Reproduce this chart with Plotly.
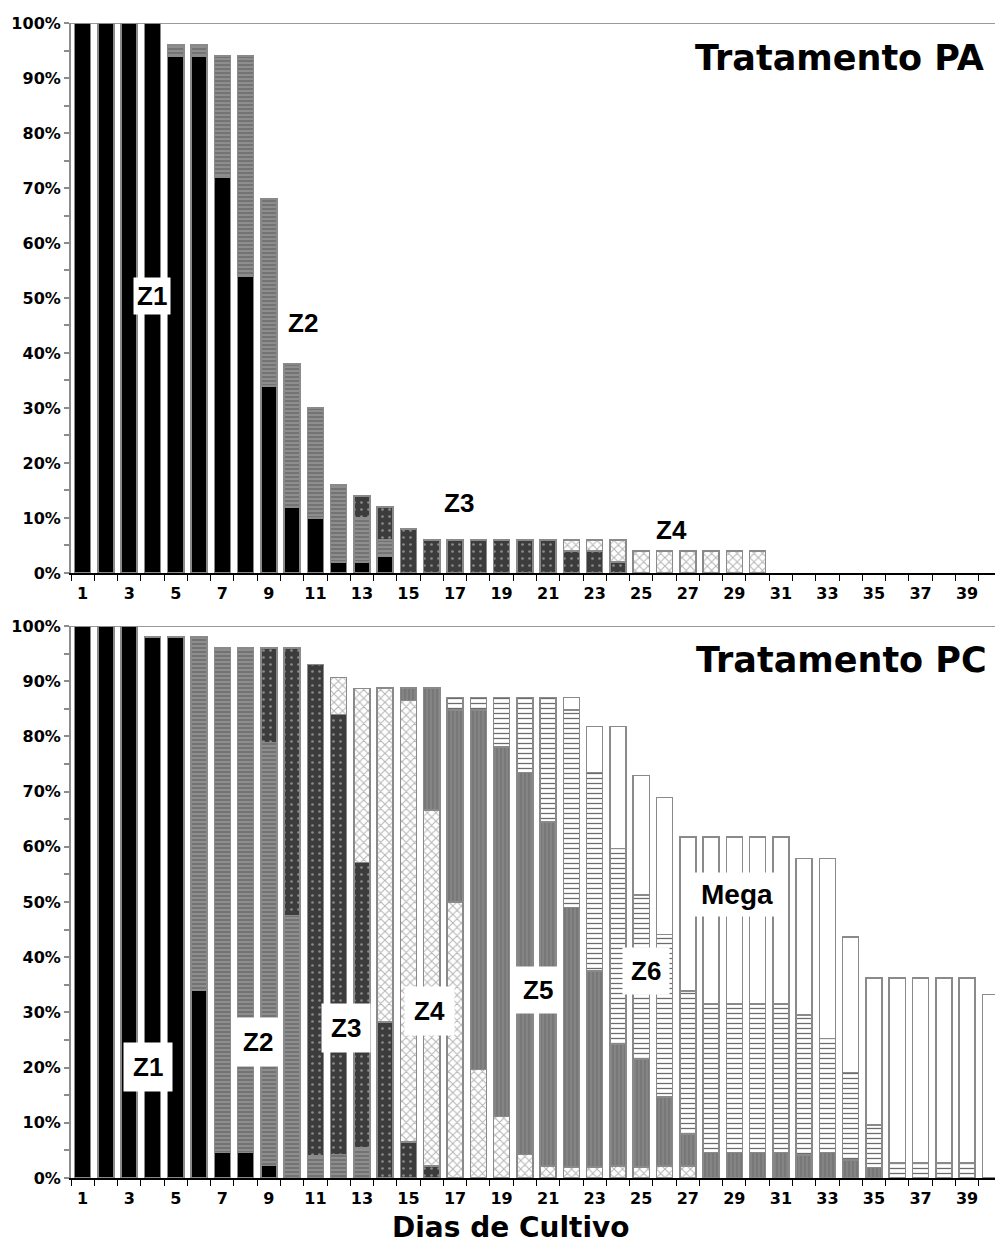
import plotly.graph_objects as go

days = list(range(1, 41))
odd_days = list(range(1, 40, 2))

# ---- Tratamento PA (% of larvae in each stage) ----
pa_z1 = [100, 100, 100, 100, 94, 94, 72, 54, 34, 12, 10, 2, 2, 3] + [0] * 26
pa_z2 = [0, 0, 0, 0, 2, 2, 22, 40, 34, 26, 20, 14, 8, 3] + [0] * 26
pa_z3 = [0] * 12 + [4, 6, 8, 6, 6, 6, 6, 6, 6, 4, 4, 2] + [0] * 16
pa_z4 = [0] * 21 + [2, 2, 4, 4, 4, 4, 4, 4, 4] + [0] * 10

# ---- Tratamento PC ----
pc_z1 = [100, 100, 100, 98, 98, 34, 4.6, 4.6, 2.3] + [0] * 31
pc_z2 = [0, 0, 0, 0, 0, 64, 91.4, 91.4, 76.6, 47.6, 4, 4.3, 5.4] + [0] * 27
pc_z3 = [0] * 8 + [17.1, 48.4, 89, 79.7, 51.8, 28.3, 6.5, 2.2] + [0] * 24
pc_z4 = [0] * 11 + [6.7, 31.5, 60.5, 80, 64.5, 50, 19.7, 11.1, 4.3, 2.2,
                    2, 2, 2.2, 2, 2.2, 2.2] + [0] * 13
pc_z5 = [0] * 14 + [2.3, 22.1, 34.8, 65.1, 67, 69.2, 62.3, 47, 35.5, 22.1,
                    19.6, 12.5, 5.8, 4.6, 4.6, 4.6, 4.6, 4.2, 4.6, 3.3, 1.9] + [0] * 5
pc_z6 = [0] * 16 + [2.2, 2.2, 8.9, 13.5, 22.5, 35.8, 36, 35.4, 29.7, 29.4,
                    25.9, 26.9, 26.9, 26.9, 26.9, 25.3, 20.7, 15.8, 7.7,
                    2.7, 2.7, 2.7, 2.7, 0]
pc_mega = [0] * 21 + [2.2, 8.3, 22.1, 21.6, 24.8, 27.9, 30.3, 30.3, 30.3, 30.3,
                      28.4, 32.6, 24.6, 26.6, 33.5, 33.5, 33.5, 33.5, 33.2]

# fill style of every larval stage
styles = {
    "Z1": dict(color="#000000"),
    "Z2": dict(color="#8e8e8e", pattern=dict(shape="-", bgcolor="#8e8e8e", fgcolor="#6c6c6c",
                                            size=4, solidity=0.4, fillmode="replace")),
    "Z3": dict(color="#3c3c3c", pattern=dict(shape=".", bgcolor="#3c3c3c", fgcolor="#8a8a8a",
                                            size=7, solidity=0.12, fillmode="replace")),
    "Z4": dict(color="#ffffff", pattern=dict(shape="x", bgcolor="#ffffff", fgcolor="#b4b4b4",
                                            size=6, solidity=0.3, fillmode="replace")),
    "Z5": dict(color="#828282", pattern=dict(shape="|", bgcolor="#848484", fgcolor="#707070",
                                            size=4, solidity=0.3, fillmode="replace")),
    "Z6": dict(color="#ffffff", pattern=dict(shape="-", bgcolor="#ffffff", fgcolor="#6a6a6a",
                                            size=5, solidity=0.25, fillmode="replace")),
    "Mega": dict(color="#ffffff"),
}

fig = go.Figure()


def add_stage(name, values, xa, ya):
    st = styles[name]
    marker = dict(color=st["color"], line=dict(color="#8a8a8a", width=1.5))
    if "pattern" in st:
        marker["pattern"] = st["pattern"]
    # empty stages are left out so no outline is drawn for them
    yvals = [v if v else None for v in values]
    fig.add_trace(go.Bar(x=days, y=yvals, name=name, marker=marker,
                         xaxis=xa, yaxis=ya, showlegend=False))


for nm, vals in [("Z1", pa_z1), ("Z2", pa_z2), ("Z3", pa_z3), ("Z4", pa_z4)]:
    add_stage(nm, vals, "x", "y")
for nm, vals in [("Z1", pc_z1), ("Z2", pc_z2), ("Z3", pc_z3), ("Z4", pc_z4),
                 ("Z5", pc_z5), ("Z6", pc_z6), ("Mega", pc_mega)]:
    add_stage(nm, vals, "x2", "y2")

tick_font = dict(family="DejaVu Sans", size=16, color="black", weight="bold")

xaxis_common = dict(
    range=[0.5, 40.2], domain=[0, 1], showgrid=False, zeroline=False, automargin=False,
    showline=True, linecolor="black", linewidth=2,
    tickmode="array", tickvals=odd_days, ticktext=[str(d) for d in odd_days],
    ticks="outside", ticklen=5, tickcolor="rgba(0,0,0,0)", tickfont=tick_font,
    minor=dict(tickmode="linear", tick0=0.5, dtick=1, ticks="outside",
               ticklen=6, tickcolor="black", tickwidth=1),
)
yaxis_common = dict(
    range=[0, 100], showgrid=False, zeroline=False, automargin=False,
    showline=True, linecolor="#8c8c8c", linewidth=2,
    tickmode="linear", tick0=0, dtick=10, ticksuffix="%",
    ticks="outside", ticklen=5, tickcolor="#8c8c8c", tickwidth=2, tickfont=tick_font,
    minor=dict(tickmode="linear", tick0=0, dtick=5, ticks="outside",
               ticklen=5, tickcolor="#8c8c8c", tickwidth=2),
)

fig.update_layout(
    width=995, height=1245,
    margin=dict(l=71, r=0, t=0, b=0),
    paper_bgcolor="white", plot_bgcolor="white",
    barmode="stack", bargap=0.31,
    xaxis=dict(anchor="y", **xaxis_common),
    yaxis=dict(anchor="x", domain=[0.5398, 0.9815], **yaxis_common),
    xaxis2=dict(anchor="y2", **xaxis_common),
    yaxis2=dict(anchor="x2", domain=[0.0538, 0.4972], **yaxis_common),
)

# gray frame line at 100% on both panels
for xd, yr in [("x domain", "y"), ("x2 domain", "y2")]:
    fig.add_shape(type="line", xref=xd, yref=yr, x0=0, x1=1, y0=100, y1=100,
                  line=dict(color="#9a9a9a", width=2), layer="below")

label_font = dict(family="Liberation Sans", size=26, color="black", weight="bold")


def stage_label(text, x, y, xr, yr, pad, size=26):
    f = dict(label_font)
    f["size"] = size
    fig.add_annotation(text=text, x=x, y=y, xref=xr, yref=yr, showarrow=False,
                       font=f, bgcolor="white", borderpad=pad)


# stage labels, PA panel
stage_label("Z1", 3.98, 50.4, "x", "y", 3)
stage_label("Z2", 10.47, 45.5, "x", "y", 2)
stage_label("Z3", 17.17, 12.7, "x", "y", 2)
stage_label("Z4", 26.3, 7.8, "x", "y", 2)

# stage labels, PC panel
stage_label("Z1", 3.81, 20.1, "x2", "y2", 9)
stage_label("Z2", 8.54, 24.6, "x2", "y2", 9)
stage_label("Z3", 12.3, 27.2, "x2", "y2", 9)
stage_label("Z4", 15.9, 30.3, "x2", "y2", 9)
stage_label("Z5", 20.57, 34.1, "x2", "y2", 8)
stage_label("Z6", 25.2, 37.5, "x2", "y2", 8)
stage_label("Mega", 29.1, 51.3, "x2", "y2", 6, size=28)

title_font = dict(family="DejaVu Sans", size=35, color="black", weight="bold")
fig.add_annotation(text="Tratamento PA", xref="x domain", yref="y", x=0.99, y=93.6,
                   xanchor="right", yanchor="middle", showarrow=False, font=title_font)
fig.add_annotation(text="Tratamento PC", xref="x2 domain", yref="y2", x=0.993, y=93.8,
                   xanchor="right", yanchor="middle", showarrow=False, font=title_font)

fig.add_annotation(text="Dias de Cultivo", xref="paper", yref="paper", x=0.476, y=0.0137,
                   xanchor="center", yanchor="middle", showarrow=False,
                   font=dict(family="DejaVu Sans", size=28, color="black", weight="bold"))

fig.write_html("out.html")
